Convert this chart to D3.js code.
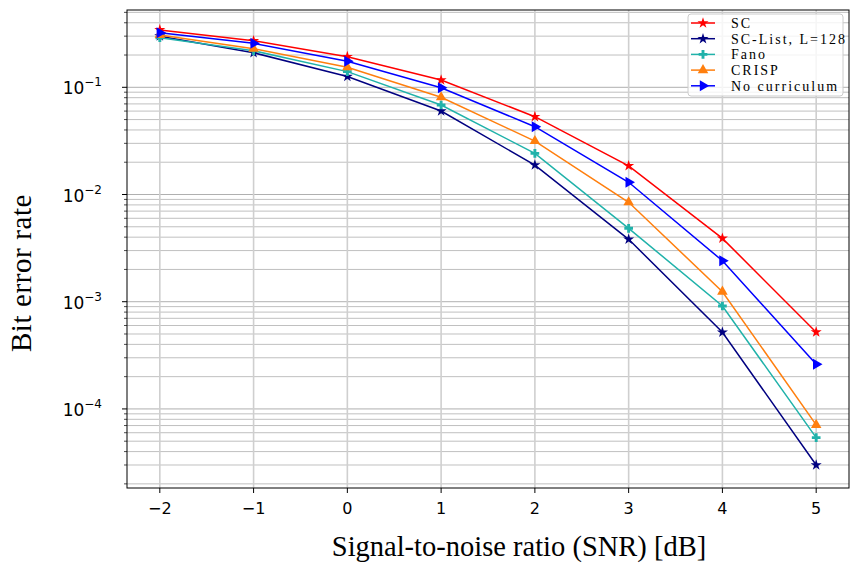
<!DOCTYPE html>
<html>
<head>
<meta charset="utf-8">
<script src="https://cdn.jsdelivr.net/npm/d3@7"></script>
<style>
  body { margin: 0; background: #fff; }
  svg { display: block; }
</style>
</head>
<body>
<div id="chart"></div>
<script>
const WIDTH = 854;
const HEIGHT = 566;

// data
const snr = [-2, -1, 0, 1, 2, 3, 4, 5];
const berSC = [0.343, 0.272, 0.193, 0.117, 0.0532, 0.0185, 0.0039, 0.00052];
const berSCList = [0.30, 0.210, 0.126, 0.0601, 0.0188, 0.00382, 0.000519, 0.000030];
const berFano = [0.29, 0.219, 0.140, 0.0684, 0.0242, 0.00484, 0.000912, 0.000054];
const berCRISP = [0.307, 0.229, 0.154, 0.0807, 0.0315, 0.00846, 0.00124, 0.000071];
const berNoCurr = [0.323, 0.257, 0.175, 0.0991, 0.0429, 0.0130, 0.00241, 0.000261];

const seriesNames = ['SC', 'SC-List, L=128', 'Fano', 'CRISP', 'No curriculum'];
const seriesColors = ['#ff0000', '#000080', '#20b2aa', '#ff7f0e', '#0000ff'];
const seriesMarkers = ['star', 'star', 'plus', 'triUp', 'triRight'];
const seriesValues = [berSC, berSCList, berFano, berCRISP, berNoCurr];

const xTicks = [-2, -1, 0, 1, 2, 3, 4, 5];
const yDecades = [-4, -3, -2, -1];

const margin = {left: 127, right: 5, top: 10, bottom: 78};
const x0 = margin.left, x1 = WIDTH - margin.right;
const y0 = HEIGHT - margin.bottom, y1 = margin.top;

var svg = d3.select("#chart").append("svg")
    .attr("width", WIDTH)
    .attr("height", HEIGHT);

var xScale = d3.scaleLinear()
    .domain([-2.35, 5.35])
    .range([x0, x1]);

var yScale = d3.scaleLog()
    .domain([1.83e-5, 0.526])
    .range([y0, y1]);

// minor tick values on the log axis
const minorVals = [];
for (let e = -5; e <= 0; e++) {
    for (let m = 2; m <= 9; m++) {
        const v = m * Math.pow(10, e);
        if (v >= yScale.domain()[0] && v <= yScale.domain()[1]) minorVals.push(v);
    }
}
const majorVals = yDecades.map(e => Math.pow(10, e));

// grid
var grid = svg.append("g");
grid.selectAll(".ymin").data(minorVals).enter().append("line")
    .attr("x1", x0).attr("x2", x1)
    .attr("y1", d => yScale(d)).attr("y2", d => yScale(d))
    .attr("stroke", "#b0b0b0").attr("stroke-width", 0.8);
grid.selectAll(".ymaj").data(majorVals).enter().append("line")
    .attr("x1", x0).attr("x2", x1)
    .attr("y1", d => yScale(d)).attr("y2", d => yScale(d))
    .attr("stroke", "#b0b0b0").attr("stroke-width", 1.0);
grid.selectAll(".xmaj").data(xTicks).enter().append("line")
    .attr("x1", d => xScale(d)).attr("x2", d => xScale(d))
    .attr("y1", y0).attr("y2", y1)
    .attr("stroke", "#cfcfcf").attr("stroke-width", 1.6);

// lines + markers
var line = d3.line()
    .x((d, i) => xScale(snr[i]))
    .y(d => yScale(d));

const markerPath = (kind) => {
    if (kind === 'star') return d3.symbol(d3.symbolStar, 38)();
    if (kind === 'plus') return d3.symbol(d3.symbolCross, 42)();
    if (kind === 'triUp') return d3.symbol(d3.symbolTriangle, 48)();
    return d3.symbol(d3.symbolTriangle, 52)();
};

seriesValues.forEach((vals, k) => {
    svg.append("path")
        .datum(vals)
        .attr("fill", "none")
        .attr("stroke", seriesColors[k])
        .attr("stroke-width", 1.5)
        .attr("d", line);
    svg.selectAll(null).data(vals).enter().append("path")
        .attr("d", markerPath(seriesMarkers[k]))
        .attr("transform", (d, i) => `translate(${xScale(snr[i])},${yScale(d)})` + (seriesMarkers[k] === 'triRight' ? ' rotate(90)' : ''))
        .attr("fill", seriesColors[k]);
});

// frame
svg.append("rect")
    .attr("x", x0).attr("y", y1)
    .attr("width", x1 - x0).attr("height", y0 - y1)
    .attr("fill", "none").attr("stroke", "#000").attr("stroke-width", 1);

// x axis ticks
var xAxis = svg.append("g").attr("font-family", "DejaVu Sans, sans-serif").attr("font-size", "16px");
xAxis.selectAll("line").data(xTicks).enter().append("line")
    .attr("x1", d => xScale(d)).attr("x2", d => xScale(d))
    .attr("y1", y0).attr("y2", y0 + 5)
    .attr("stroke", "#000");
xAxis.selectAll("text").data(xTicks).enter().append("text")
    .attr("x", d => xScale(d)).attr("y", y0 + 26)
    .attr("text-anchor", "middle")
    .text(d => d < 0 ? "\u2212" + Math.abs(d) : d);

// y axis ticks
var yAxis = svg.append("g").attr("font-family", "DejaVu Sans, sans-serif").attr("font-size", "17px");
yAxis.selectAll(".maj").data(majorVals).enter().append("line")
    .attr("x1", x0 - 5).attr("x2", x0)
    .attr("y1", d => yScale(d)).attr("y2", d => yScale(d))
    .attr("stroke", "#000");
yAxis.selectAll(".min").data(minorVals).enter().append("line")
    .attr("x1", x0 - 3).attr("x2", x0)
    .attr("y1", d => yScale(d)).attr("y2", d => yScale(d))
    .attr("stroke", "#000").attr("stroke-width", 0.7);
var ylab = yAxis.selectAll("text").data(yDecades).enter().append("text")
    .attr("x", x0 - 25).attr("y", d => yScale(Math.pow(10, d)) + 7)
    .attr("text-anchor", "end");
ylab.append("tspan").text("10");
ylab.append("tspan").attr("dy", -8).attr("font-size", "12px").text(d => "\u2212" + Math.abs(d));

// axis titles
svg.append("text")
    .attr("x", (x0 + x1) / 2 + 31).attr("y", 556)
    .attr("text-anchor", "middle")
    .attr("font-family", "Liberation Serif, serif")
    .attr("font-size", "28.5px")
    .text("Signal-to-noise ratio (SNR) [dB]");

svg.append("text")
    .attr("transform", `translate(31,${(y0 + y1) / 2 + 24}) rotate(-90)`)
    .attr("text-anchor", "middle")
    .attr("font-family", "Liberation Serif, serif")
    .attr("font-size", "29px")
    .attr("letter-spacing", "0.6px")
    .text("Bit error rate");

// legend
var legend = svg.append("g");
legend.append("rect")
    .attr("x", 688).attr("y", 14)
    .attr("width", 155).attr("height", 82)
    .attr("rx", 3)
    .attr("fill", "#fff").attr("fill-opacity", 0.8)
    .attr("stroke", "#cccccc").attr("stroke-width", 1);

var legendItems = legend.selectAll("g.item")
    .data(seriesNames)
    .enter().append("g")
    .attr("transform", (d, i) => `translate(0,${23 + i * 15.7})`);
legendItems.append("line")
    .attr("x1", 691).attr("x2", 715)
    .attr("stroke", (d, i) => seriesColors[i])
    .attr("stroke-width", 1.5);
legendItems.append("path")
    .attr("d", (d, i) => markerPath(seriesMarkers[i]))
    .attr("transform", (d, i) => "translate(703,0)" + (seriesMarkers[i] === 'triRight' ? ' rotate(90)' : ''))
    .attr("fill", (d, i) => seriesColors[i]);
legendItems.append("text")
    .attr("x", 731).attr("y", 5)
    .attr("font-family", "Liberation Serif, serif")
    .attr("font-size", "14px")
    .attr("letter-spacing", "2px")
    .text(d => d);
</script>
</body>
</html>
